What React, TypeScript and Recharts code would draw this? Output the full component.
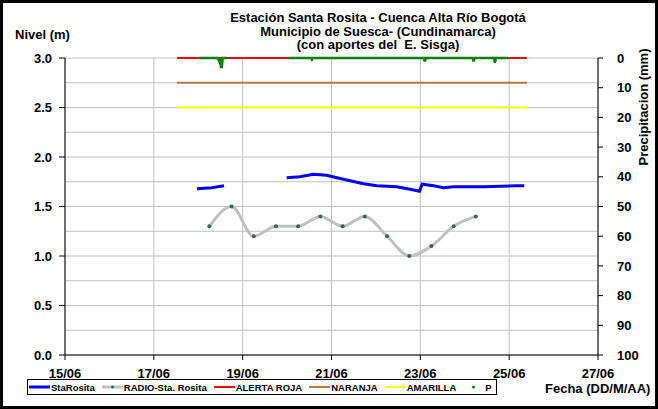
import { ComposedChart, Line, XAxis, YAxis, CartesianGrid } from 'recharts';

// days of June (fractional = hour of day)
const dayTicks = [15, 17, 19, 21, 23, 25, 27];
const nivelTicks = [0, 0.25, 0.5, 0.75, 1, 1.25, 1.5, 1.75, 2, 2.25, 2.5, 2.75, 3];
const precipTicks = [0, 10, 20, 30, 40, 50, 60, 70, 80, 90, 100];

const staRositaDias = [17.97, 18.3, 18.58, 19.3, 19.99, 20.29, 20.59, 20.89, 21.12, 21.42, 21.72, 22.02, 22.47, 22.77, 22.98, 23.04, 23.3, 23.52, 23.75, 24.42, 25.17, 25.34];
const staRositaNivel = [1.68, 1.69, 1.71, null, 1.79, 1.8, 1.825, 1.815, 1.79, 1.76, 1.73, 1.71, 1.7, 1.675, 1.655, 1.725, 1.71, 1.69, 1.7, 1.7, 1.71, 1.71];

const radioDias = [18.25, 18.75, 19.25, 19.75, 20.25, 20.75, 21.25, 21.75, 22.25, 22.75, 23.25, 23.75, 24.25];
const radioNivel = [1.3, 1.5, 1.2, 1.3, 1.3, 1.4, 1.3, 1.4, 1.2, 1.0, 1.1, 1.3, 1.4];

const alertaDias = [17.52, 25.4];
const alertaRoja = 3.0;
const alertaNaranja = 2.75;
const alertaAmarilla = 2.5;

const pDias = [18.02, 18.44, 18.47, 18.49, 18.51, 18.53, 18.55, 18.64, 19.3, 20.03, 20.54, 20.56, 20.58, 23.08, 23.1, 23.12, 24.18, 24.2, 24.22, 24.66, 24.68, 24.7, 24.98];
const pMm = [0, 0, 1, 0, 3, 3, 0, 0, null, 0, 0, 0.5, 0, 0, 1.2, 0, 0, 1.2, 0, 0, 1.6, 0, 0];

const font = '"Liberation Sans", Arial, sans-serif';

const staData = staRositaDias.map((d, i) => ({ d, v: staRositaNivel[i] }));
const radioData = radioDias.map((d, i) => ({ d, v: radioNivel[i] }));
const rojaData = alertaDias.map((d) => ({ d, v: alertaRoja }));
const naranjaData = alertaDias.map((d) => ({ d, v: alertaNaranja }));
const amarillaData = alertaDias.map((d) => ({ d, v: alertaAmarilla }));
const pData = pDias.map((d, i) => ({ d, v: pMm[i] }));

const legendItems = [
  { name: 'StaRosita', color: '#0000ff', width: 3, dot: false, line: true },
  { name: 'RADIO-Sta. Rosita', color: '#c0c0c0', width: 3, dot: true, line: true },
  { name: 'ALERTA ROJA', color: '#ff0000', width: 2, dot: false, line: true },
  { name: 'NARANJA', color: '#b8784a', width: 2, dot: false, line: true },
  { name: 'AMARILLA', color: '#ffff00', width: 2, dot: false, line: true },
  { name: 'P', color: '#008000', width: 0, dot: true, line: false },
];

const NivelTick = (props: any) => {
  const { x, y, payload } = props;
  const v = payload.value as number;
  if (Math.round(v * 100) % 50 !== 0) return <g />;
  return (
    <g>
      <line x1={x + 6} x2={x + 12} y1={y} y2={y} stroke="#000" />
      <text x={x - 1} y={y} dy="0.35em" textAnchor="end" fill="#000" fontSize={13} fontWeight="bold" fontFamily={font}>
        {v.toFixed(1)}
      </text>
    </g>
  );
};

export default function App() {
  return (
    <div style={{ position: 'absolute', left: 0, top: 0, width: 658, height: 409, background: '#fff', fontFamily: font }}>
      <ComposedChart width={658} height={409} margin={{ top: 58, right: 0, bottom: 24, left: 0 }}>
        <CartesianGrid yAxisId="n" stroke="#c0c0c0" strokeWidth={1} />
        <XAxis
          dataKey="d"
          type="number"
          domain={[15, 27]}
          ticks={dayTicks}
          interval={0}
          allowDataOverflow
          height={30}
          tickSize={5}
          tickMargin={9}
          stroke="#000"
          tickFormatter={(d: number) => `${d}/06`}
          tick={{ fill: '#000', fontSize: 13, fontWeight: 'bold', fontFamily: font }}
        />
        <YAxis
          yAxisId="n"
          domain={[0, 3]}
          ticks={nivelTicks}
          interval={0}
          width={65}
          tickSize={6}
          tickMargin={6}
          tickLine={false}
          stroke="#000"
          tick={<NivelTick />}
        />
        <YAxis
          yAxisId="p"
          orientation="right"
          reversed
          domain={[0, 100]}
          ticks={precipTicks}
          interval={0}
          width={60}
          tickSize={5}
          tickMargin={14}
          stroke="#000"
          tick={{ fill: '#000', fontSize: 13, fontWeight: 'bold', fontFamily: font, textAnchor: 'start' }}
        />
        <Line yAxisId="n" data={amarillaData} dataKey="v" stroke="#ffff00" strokeWidth={2} dot={false} isAnimationActive={false} />
        <Line yAxisId="n" data={naranjaData} dataKey="v" stroke="#b8784a" strokeWidth={2} dot={false} isAnimationActive={false} />
        <Line yAxisId="n" data={rojaData} dataKey="v" stroke="#ff0000" strokeWidth={2} dot={false} isAnimationActive={false} />
        <Line
          yAxisId="n"
          data={radioData}
          dataKey="v"
          type="monotone"
          stroke="#c0c0c0"
          strokeWidth={3}
          dot={{ r: 2, fill: '#2d6a57', stroke: 'none' }}
          isAnimationActive={false}
        />
        <Line yAxisId="n" data={staData} dataKey="v" stroke="#0000ff" strokeWidth={3} dot={false} isAnimationActive={false} />
        <Line yAxisId="p" data={pData} dataKey="v" stroke="#008000" strokeWidth={2.5} dot={false} isAnimationActive={false} />
      </ComposedChart>

      <div style={{ position: 'absolute', left: 178, top: 11, width: 400, textAlign: 'center', fontSize: 13, fontWeight: 'bold', lineHeight: '13.5px' }}>
        <div>Estación Santa Rosita - Cuenca Alta Río Bogotá</div>
        <div>Municipio de Suesca- (Cundinamarca)</div>
        <div>(con aportes del&nbsp; E. Sisga)</div>
      </div>
      <div style={{ position: 'absolute', left: 15, top: 27, fontSize: 13, fontWeight: 'bold' }}>Nivel (m)</div>
      <div
        style={{
          position: 'absolute',
          left: 643,
          top: 107,
          transform: 'translate(-50%, -50%) rotate(-90deg)',
          whiteSpace: 'nowrap',
          fontSize: 13,
          fontWeight: 'bold',
        }}
      >
        Precipitacion (mm)
      </div>
      <div style={{ position: 'absolute', left: 545, top: 382, fontSize: 13, lineHeight: '13px', fontWeight: 'bold', whiteSpace: 'nowrap' }}>
        Fecha (DD/M/AA)
      </div>

      <div
        style={{
          position: 'absolute',
          left: 27,
          top: 379,
          width: 470,
          height: 16,
          boxSizing: 'border-box',
          border: '1px solid #000',
          display: 'flex',
          alignItems: 'center',
          paddingLeft: 1,
          fontSize: 9.5,
          fontWeight: 'bold',
          whiteSpace: 'nowrap',
        }}
      >
        {legendItems.map((it) => (
          <div key={it.name} style={{ display: 'flex', alignItems: 'center', marginRight: 7 }}>
            <svg width={21} height={10} style={{ marginRight: 1 }}>
              {it.line && <line x1={0} x2={21} y1={5} y2={5} stroke={it.color} strokeWidth={it.width} />}
              {it.dot && <circle cx={10.5} cy={5} r={1.5} fill={it.line ? '#2d6a57' : it.color} />}
            </svg>
            <span>{it.name}</span>
          </div>
        ))}
      </div>

      <div
        style={{
          position: 'absolute',
          left: 0,
          top: 0,
          width: 658,
          height: 409,
          boxSizing: 'border-box',
          border: '3px solid #000',
          pointerEvents: 'none',
        }}
      />
    </div>
  );
}
